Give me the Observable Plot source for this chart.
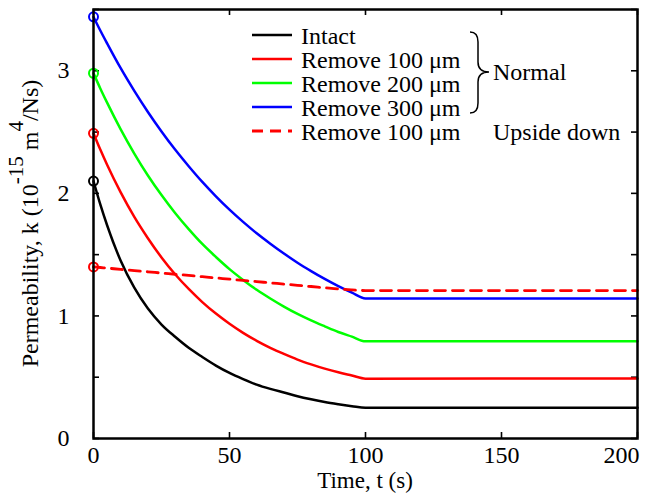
<!DOCTYPE html>
<html><head><meta charset="utf-8">
<script src="https://cdn.jsdelivr.net/npm/d3@7"></script>
<script src="https://cdn.jsdelivr.net/npm/@observablehq/plot@0.6"></script>
<style>
body{margin:0;background:#fff}
#chart{position:relative;width:646px;height:502px}
</style>
</head><body><div id="chart"></div>
<script>
// Time samples (s)
const time = [0, 2.5, 5, 10, 15, 20, 25, 30, 35, 40, 45, 50, 55, 60, 65, 70, 75, 80, 85, 90, 95, 100, 200];
// Permeability k (1e-15 m^4/Ns)
const intact   = [2.10, 1.91, 1.74, 1.45, 1.23, 1.06, 0.93, 0.83, 0.74, 0.665, 0.595, 0.535, 0.485, 0.44, 0.405, 0.375, 0.345, 0.32, 0.298, 0.28, 0.264, 0.25, 0.25];
const remove100 = [2.49, 2.357, 2.233, 2.008, 1.808, 1.634, 1.477, 1.340, 1.220, 1.113, 1.019, 0.936, 0.862, 0.797, 0.740, 0.690, 0.644, 0.605, 0.570, 0.540, 0.514, 0.488, 0.49];
const remove200 = [2.98, 2.856, 2.740, 2.522, 2.325, 2.146, 1.986, 1.840, 1.708, 1.587, 1.481, 1.382, 1.294, 1.213, 1.142, 1.076, 1.016, 0.963, 0.915, 0.869, 0.831, 0.793, 0.793];
const remove300 = [3.44, 3.329, 3.224, 3.021, 2.836, 2.664, 2.505, 2.357, 2.221, 2.093, 1.976, 1.867, 1.767, 1.674, 1.589, 1.509, 1.434, 1.366, 1.302, 1.243, 1.190, 1.143, 1.143];
const remove100Upside = [1.40, 1.395, 1.39, 1.38, 1.37, 1.36, 1.35, 1.34, 1.33, 1.32, 1.31, 1.30, 1.29, 1.28, 1.27, 1.26, 1.25, 1.24, 1.23, 1.22, 1.213, 1.207, 1.207];

const legendLabels = ["Intact", "Remove 100 μm", "Remove 200 μm", "Remove 300 μm", "Remove 100 μm"];
const groupLabels = ["Normal", "Upside down"];
const xTicks = [0, 50, 100, 150, 200];
const xTickLabels = [0, 50, 100, 150];
const yTicks = [0, 0.5, 1, 1.5, 2, 2.5, 3, 3.5];
const yTickLabels = [0, 1, 2, 3];

const series = [
  {values: intact, color: "#000000", dash: null},
  {values: remove100, color: "#ff0000", dash: null},
  {values: remove200, color: "#00ff00", dash: null},
  {values: remove300, color: "#0000ff", dash: null},
  {values: remove100Upside, color: "#ff0000", dash: "11,7"}
];

const W = 646, H = 502, mL = 93, mR = 9, mT = 9, mB = 64;
const fw = W - mL - mR, fh = H - mT - mB;
const tl = 6;
const font = "'Liberation Serif','Times New Roman',Times,serif";

const marks = [
  Plot.axisX(xTickLabels, {tickSize: 0, tickPadding: 7, label: null, fontSize: 24, tickFormat: d => String(d)}),
  Plot.axisX([200], {tickSize: 0, tickPadding: 7, label: null, fontSize: 24, dx: -16, tickFormat: d => String(d)}),
  Plot.axisY(yTickLabels, {tickSize: 0, tickPadding: 24, label: null, fontSize: 24, tickFormat: d => String(d)}),
  Plot.tickX(xTicks, {x: d => d, insetTop: fh - tl, stroke: "black", strokeWidth: 1.6}),
  Plot.tickX(xTicks, {x: d => d, insetBottom: fh - tl, stroke: "black", strokeWidth: 1.6}),
  Plot.tickY(yTicks, {y: d => d, insetRight: fw - tl, stroke: "black", strokeWidth: 1.6}),
  Plot.tickY(yTicks, {y: d => d, insetLeft: fw - tl, stroke: "black", strokeWidth: 1.6})
];
for (const s of series) {
  marks.push(Plot.line(s.values, {x: (d, i) => time[i], y: d => d, stroke: s.color, strokeWidth: s.dash ? 2.8 : 2.5, strokeDasharray: s.dash, curve: "monotone-x"}));
}
for (const s of series) {
  marks.push(Plot.dot([s.values[0]], {x: () => time[0], y: d => d, r: 4.5, stroke: s.color, strokeWidth: 2, fill: "none"}));
}
marks.push(Plot.frame({stroke: "black", strokeWidth: 2.5, strokeOpacity: 1}));

const chart = Plot.plot({
  width: W, height: H,
  marginLeft: mL, marginRight: mR, marginTop: mT, marginBottom: mB,
  x: {domain: [0, 200]},
  y: {domain: [0, 3.5]},
  style: {fontFamily: font, fontSize: "24px", color: "black", background: "white", overflow: "visible"},
  marks
});
document.getElementById("chart").appendChild(chart);

const svg = d3.select(chart);
// Axis titles
svg.append("text")
  .attr("x", mL + fw / 2).attr("y", 488)
  .attr("text-anchor", "middle").attr("font-family", font).attr("font-size", 23).attr("fill", "black")
  .text("Time, t (s)");
const yt = svg.append("text")
  .attr("transform", `translate(38,${mT + fh / 2}) rotate(-90)`)
  .attr("text-anchor", "middle").attr("font-family", font).attr("font-size", 24).attr("fill", "black")
  .style("white-space", "pre");
yt.append("tspan").text("Permeability, k (10");
yt.append("tspan").attr("dy", -15).attr("font-size", 21).text("-15");
yt.append("tspan").attr("dy", 15).text(" m");
yt.append("tspan").attr("dy", -15).attr("font-size", 21).text("4");
yt.append("tspan").attr("dy", 15).text("/Ns)");

// Legend
const lg = svg.append("g").attr("font-family", font).attr("font-size", 24).attr("fill", "black").attr("text-anchor", "start");
const rowY = [35, 59, 83, 107, 131];
series.forEach((s, i) => {
  lg.append("line").attr("x1", 252).attr("x2", 292).attr("y1", rowY[i]).attr("y2", rowY[i])
    .attr("stroke", s.color).attr("stroke-width", s.dash ? 2.8 : 2.5)
    .attr("stroke-dasharray", s.dash);
  lg.append("text").attr("x", 301).attr("y", rowY[i] + 9).attr("text-anchor", "start").text(legendLabels[i]);
});
lg.append("path")
  .attr("d", "M470,32 Q478,32 478,42 L478,62 Q478,72 489,72 Q478,72 478,82 L478,103 Q478,113 470,113")
  .attr("fill", "none").attr("stroke", "black").attr("stroke-width", 1.5);
lg.append("text").attr("x", 493).attr("y", 80).attr("text-anchor", "start").text(groupLabels[0]);
lg.append("text").attr("x", 493).attr("y", rowY[4] + 9).attr("text-anchor", "start").text(groupLabels[1]);
</script>
</body></html>
